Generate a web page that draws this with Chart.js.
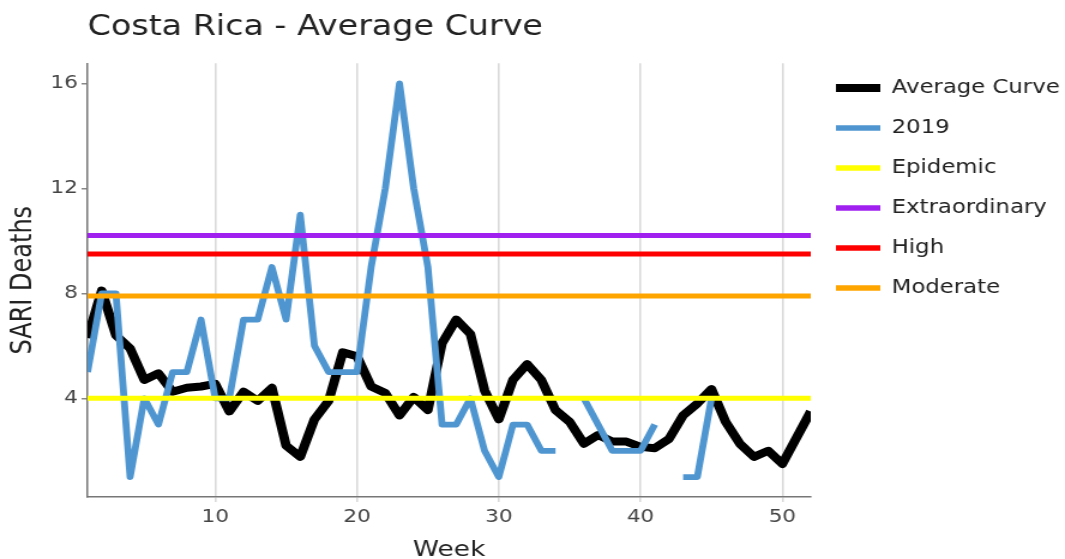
<!DOCTYPE html>
<html>
<head>
<meta charset="utf-8">
<script src="https://cdn.jsdelivr.net/npm/chart.js@4/dist/chart.umd.min.js"></script>
<style>
  html, body { margin: 0; padding: 0; background: #fff; overflow: hidden; }
  /* the reference is a little wider than tall in its text, so the chart is drawn narrow and stretched */
  #wrap { width: 888px; height: 559px; transform: scaleX(1.1993); transform-origin: 0 0; }
</style>
</head>
<body>
<div id="wrap"><canvas id="chart"></canvas></div>
<script>
// weeks 1..52
const weeks = Array.from({ length: 52 }, (_, i) => i + 1);

// Average Curve
const averageCurve = [6.3, 8.1, 6.4, 5.9, 4.7, 4.95, 4.25, 4.4, 4.45, 4.55,
  3.5, 4.25, 3.9, 4.4, 2.2, 1.77, 3.2, 3.9, 5.75, 5.6,
  4.45, 4.2, 3.35, 4.05, 3.55, 6.1, 7.0, 6.45, 4.3, 3.2,
  4.7, 5.3, 4.7, 3.55, 3.1, 2.27, 2.6, 2.35, 2.35, 2.15,
  2.1, 2.45, 3.35, 3.8, 4.35, 3.1, 2.27, 1.77, 2.0, 1.5,
  2.5, 3.5];

// 2019 season, null where no value was reported
const season2019 = [5, 8, 8, 1, 4, 3, 5, 5, 7, 4,
  4, 7, 7, 9, 7, 11, 6, 5, 5, 5,
  9, 12, 16, 12, 9, 3, 3, 4, 2, 1,
  3, 3, 2, 2, null, 4, 3, 2, 2, 2,
  3, null, 1, 1, 4, null, null, null, null, null,
  null, null];

// threshold levels
const thresholdNames = ['Epidemic', 'Extraordinary', 'High', 'Moderate'];
const thresholdValues = [4.0, 10.2, 9.5, 7.9];
const thresholdColors = ['#ffff00', '#a020f0', '#ff0000', '#ffa500'];

const yTickValues = [4, 8, 12, 16];
const xTickValues = [10, 20, 30, 40, 50];

Chart.defaults.font.family = "'DejaVu Sans', Verdana, sans-serif";
Chart.defaults.color = '#444';

function toPoints(values) {
  return weeks.map((w, i) => ({ x: w, y: values[i] }));
}

const datasets = [
  { label: 'Average Curve', data: toPoints(averageCurve), borderColor: '#000000', borderWidth: 8, order: 6 },
  { label: '2019', data: toPoints(season2019), borderColor: '#4f96d0', borderWidth: 5.8, order: 5 }
];
thresholdNames.forEach((name, i) => {
  datasets.push({
    label: name,
    data: [{ x: weeks[0], y: thresholdValues[i] }, { x: weeks[weeks.length - 1], y: thresholdValues[i] }],
    borderColor: thresholdColors[i],
    borderWidth: 5,
    order: 4 - i
  });
});
datasets.forEach(ds => {
  ds.pointRadius = 0;
  ds.tension = 0;
  ds.fill = false;
  ds.spanGaps = false;
  ds.borderJoinStyle = 'round';
});

new Chart(document.getElementById('chart').getContext('2d'), {
  type: 'line',
  data: { datasets: datasets },
  options: {
    responsive: true,
    maintainAspectRatio: false,
    animation: false,
    layout: { padding: { left: 0, right: 3.5, top: 0, bottom: 0 } },
    scales: {
      x: {
        type: 'linear',
        min: 1,
        max: 52,
        afterBuildTicks: scale => { scale.ticks = xTickValues.map(v => ({ value: v })); },
        afterFit: scale => { scale.height = 62; },
        ticks: { font: { size: 18 }, color: '#444', padding: 5 },
        grid: { color: 'rgba(0,0,0,0.15)', lineWidth: 1.6, tickLength: 5 },
        border: { color: '#777', width: 1.5 },
        title: { display: true, text: 'Week', font: { size: 22 }, color: '#222', padding: { top: 0, bottom: -4 } }
      },
      y: {
        type: 'linear',
        min: 0.24,
        max: 16.76,
        afterBuildTicks: scale => { scale.ticks = yTickValues.map(v => ({ value: v })); },
        afterFit: scale => { scale.width = 73; },
        ticks: { font: { size: 18 }, color: '#444', padding: 3 },
        grid: { drawOnChartArea: false, drawTicks: true, tickLength: 5, tickColor: '#888', lineWidth: 1.5 },
        border: { color: '#777', width: 1.5 },
        title: { display: true, text: 'SARI Deaths', font: { size: 24 }, color: '#222', padding: { top: 5, bottom: 0 } }
      }
    },
    plugins: {
      title: {
        display: true,
        text: 'Costa Rica - Average Curve',
        align: 'start',
        fullSize: false,
        font: { size: 27.8, weight: 'normal' },
        color: '#222',
        padding: { top: 11, bottom: 19 }
      },
      legend: {
        position: 'right',
        align: 'start',
        fullSize: true,
        maxWidth: 208.5,
        title: { display: true, text: ' ', font: { size: 10 }, padding: { top: 45.5, bottom: 0 } },
        labels: {
          usePointStyle: true,
          pointStyleWidth: 37,
          boxHeight: 19,
          padding: 21,
          font: { size: 19 },
          color: '#222',
          sort: (a, b) => a.datasetIndex - b.datasetIndex,
          generateLabels: chart => chart.data.datasets.map((ds, i) => ({
            text: ds.label,
            pointStyle: 'line',
            strokeStyle: ds.borderColor,
            fillStyle: ds.borderColor,
            lineWidth: i === 0 ? 8 : 5.5,
            lineCap: 'butt',
            hidden: false,
            datasetIndex: i,
            fontColor: '#222'
          }))
        }
      },
      tooltip: { enabled: false }
    }
  }
});
</script>
</body>
</html>
